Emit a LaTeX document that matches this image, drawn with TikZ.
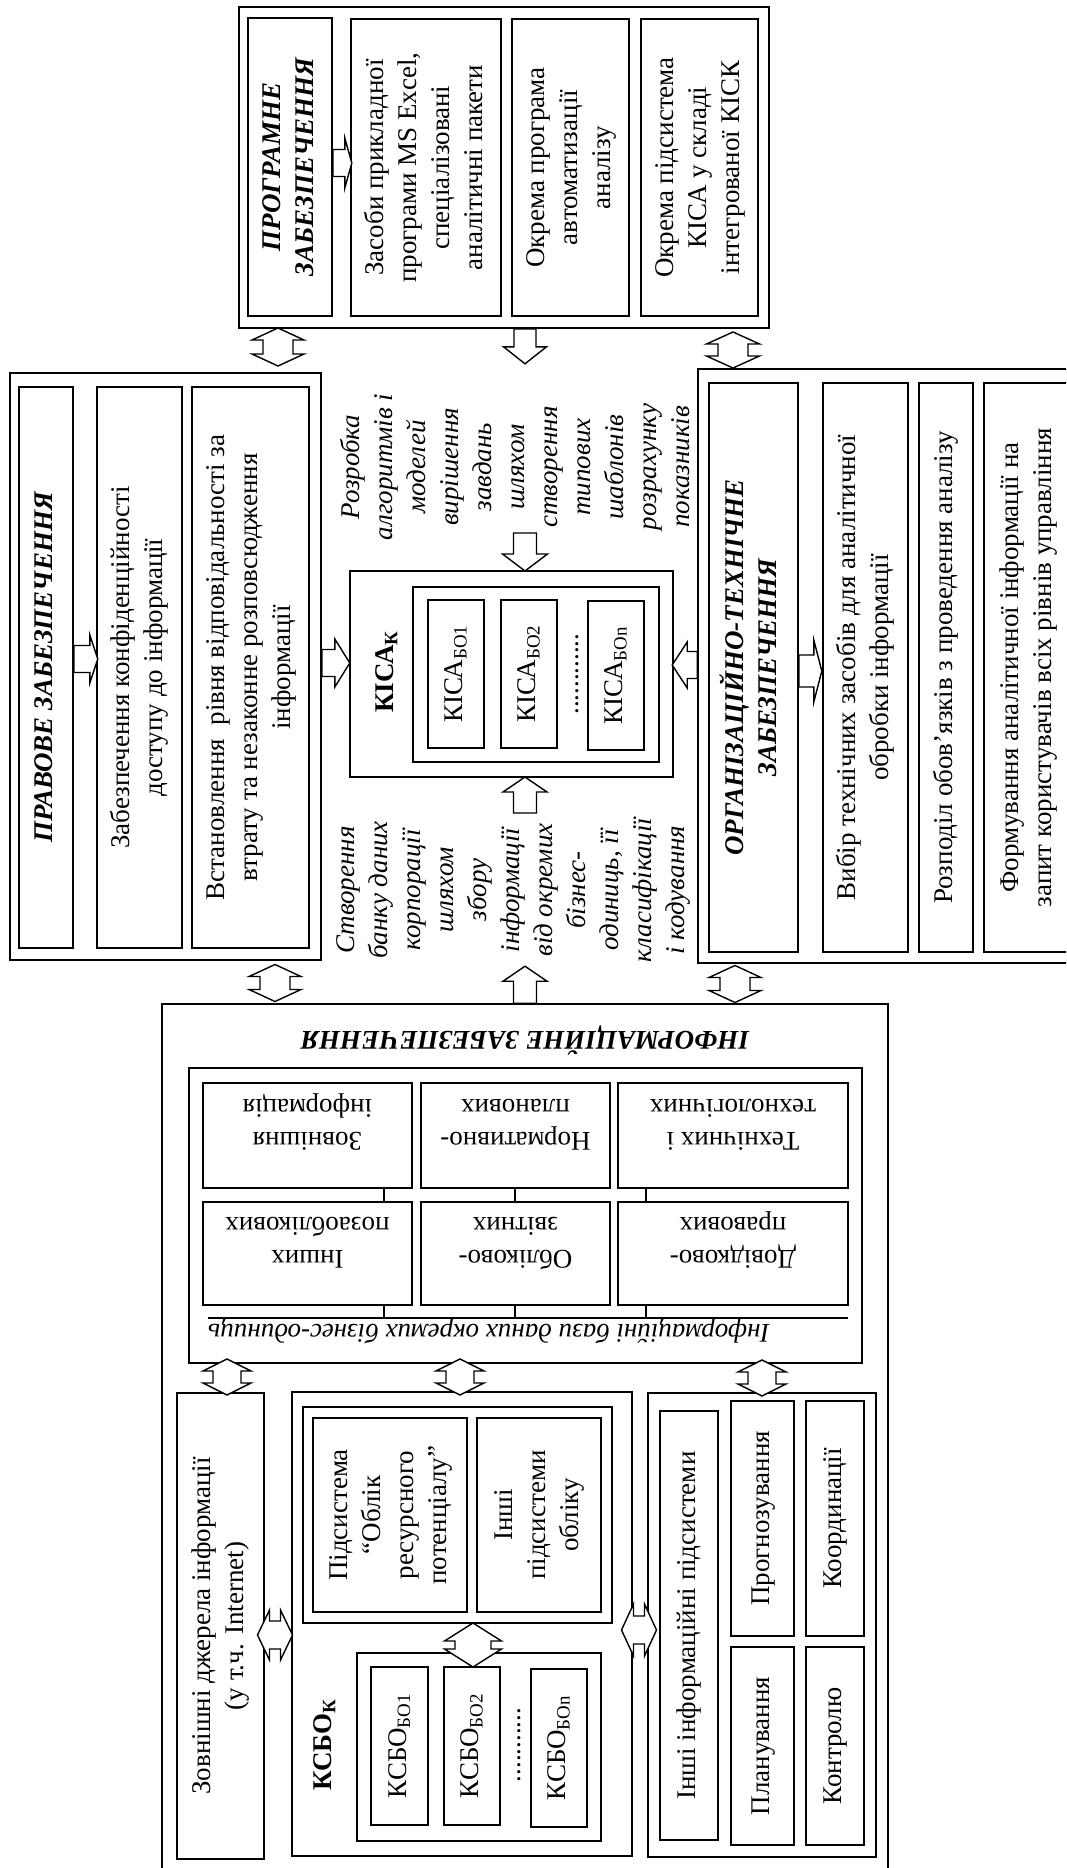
\documentclass[tikz,border=0pt]{standalone}
\usepackage{fontspec}
\setmainfont{Liberation Serif}
\usepackage{graphicx}
\usetikzlibrary{fit}

\newcommand\bodyfont{\fontsize{27}{33}\selectfont}
\newcommand\vtxt[1]{\rotatebox{90}{\makebox[0pt]{\begin{tabular}{@{}c@{}}#1\end{tabular}}}}
\newcommand\utxt[1]{\rotatebox{180}{\begin{tabular}{@{}c@{}}#1\end{tabular}}}

\begin{document}
\begin{tikzpicture}[x=1pt, y=1pt,
    box/.style={draw, line width=1.6pt, fill=white, inner sep=0pt, font=\bodyfont},
    hdr/.style={box, font=\bodyfont\bfseries\itshape},
    txt/.style={inner sep=0pt, font=\bodyfont},
    note/.style={inner sep=0pt, font=\bodyfont\itshape},
    lbl/.style={inner sep=0pt, font=\bodyfont\bfseries},
    link/.style={line width=1.4pt},
    arrline/.style={draw, line width=1.4pt, fill=white},
    pics/sarr/.style n args={4}{code={
        \path[arrline] (0,-#3/2) -- (#1-#4,-#3/2) -- (#1-#4,-#2/2) -- (#1,0)
            -- (#1-#4,#2/2) -- (#1-#4,#3/2) -- (0,#3/2) -- cycle;}},
    pics/darr/.style n args={4}{code={
        \path[arrline] (-#1/2,0) -- (-#1/2+#4,#2/2) -- (-#1/2+#4,#3/2) -- (#1/2-#4,#3/2)
            -- (#1/2-#4,#2/2) -- (#1/2,0) -- (#1/2-#4,-#2/2) -- (#1/2-#4,-#3/2)
            -- (-#1/2+#4,-#3/2) -- (-#1/2+#4,-#2/2) -- cycle;}}
]
    \useasboundingbox (0,0) rectangle (1066,-1868);
    \clip (0,0) rectangle (1066,-1868);

    % software
    \node[box, fit={(239,-7) (769,-328)}] (prog) {};
    \node[hdr, fit={(248,-18) (332,-316)}] (proghdr) {\vtxt{ПРОГРАМНЕ\\ ЗАБЕЗПЕЧЕННЯ}};
    \node[box, fit={(351,-19) (501,-316)}] (prog1) {\vtxt{Засоби прикладної\\ програми MS Excel,\\ спеціалізовані\\ аналітичні пакети}};
    \node[box, fit={(512,-19) (629,-316)}] (prog2) {\vtxt{Окрема програма\\ автоматизації\\ аналізу}};
    \node[box, fit={(641,-19) (758,-316)}] (prog3) {\vtxt{Окрема підсистема\\ КІСА у складі\\ інтегрованої КІСК}};

    % legal
    \node[box, fit={(10,-373) (321,-960)}] (law) {};
    \node[hdr, fit={(19,-387) (73,-948)}] (lawhdr) {\vtxt{ПРАВОВЕ ЗАБЕЗПЕЧЕННЯ}};
    \node[box, fit={(97,-387) (182,-948)}] (law1) {\vtxt{Забезпечення конфіденційності\\ доступу до інформації}};
    \node[box, fit={(192,-387) (309,-948)}] (law2) {\vtxt{Встановлення\ \ рівня відповідальності за\\ втрату та незаконне розповсюдження\\ інформації}};

    % analytical system
    \node[box, fit={(350,-571) (673,-777)}] (kica) {};
    \node[box, fit={(413,-587) (659,-762)}] (kicain) {};
    \node[box, fit={(428,-600) (484,-748)}] (kica1) {\vtxt{КІСА\textsubscript{БО1}}};
    \node[box, fit={(501,-600) (557,-748)}] (kica2) {\vtxt{КІСА\textsubscript{БО2}}};
    \node[box, fit={(588,-601) (644,-750)}] (kican) {\vtxt{КІСА\textsubscript{БОn}}};
    \node[txt] (kdots) at (572,-674) {\vtxt{............}};
    \node[lbl] (kicalbl) at (387,-672) {\vtxt{КІСА\textsubscript{К}}};

    \node[note] (ktext) at (518,-467) {\vtxt{Розробка\\ алгоритмів і\\ моделей\\ вирішення\\ завдань\\ шляхом\\ створення\\ типових\\ шаблонів\\ розрахунку\\ показників}};
    \node[note] (itext) at (513,-890) {\vtxt{Створення\\ банку даних\\ корпорації\\ шляхом\\ збору\\ інформації\\ від окремих\\ бізнес-\\ одиниць, її\\ класифікації\\ і кодування}};

    % organisational
    \node[box, fit={(698,-369) (1083,-963)}] (org) {};
    \node[hdr, fit={(709,-383) (798,-952)}] (orghdr) {\vtxt{ОРГАНІЗАЦІЙНО-ТЕХНІЧНЕ\\ ЗАБЕЗПЕЧЕННЯ}};
    \node[box, fit={(823,-383) (908,-952)}] (org1) {\vtxt{Вибір технічних засобів для аналітичної\\ обробки інформації}};
    \node[box, fit={(919,-383) (973,-952)}] (org2) {\vtxt{Розподіл обов’язків з проведення аналізу}};
    \node[box, fit={(984,-383) (1072,-952)}] (org3) {\vtxt{Формування аналітичної інформації на\\ запит користувачів всіх рівнів управління}};

    % information
    \node[box, fit={(162,-1004) (888,-1880)}] (info) {};
    \node[lbl, font=\bodyfont\bfseries\itshape] (infohdr) at (525,-1038) {\utxt{ІНФОРМАЦІЙНЕ ЗАБЕЗПЕЧЕННЯ}};
    \node[box, fit={(189,-1068) (862,-1363)}] (db) {};
    \node[box, fit={(203,-1083) (412,-1188)}] (db11) {\utxt{Зовнішня\\ інформація}};
    \node[box, fit={(421,-1083) (610,-1188)}] (db12) {\utxt{Нормативно-\\ планових}};
    \node[box, fit={(618,-1083) (848,-1188)}] (db13) {\utxt{Технічних і\\ технологічних}};
    \node[box, fit={(203,-1202) (412,-1305)}] (db21) {\utxt{Інших\\ позаоблікових}};
    \node[box, fit={(421,-1202) (610,-1305)}] (db22) {\utxt{Обліково-\\ звітних}};
    \node[box, fit={(618,-1202) (848,-1305)}] (db23) {\utxt{Довідково-\\ правових}};
    \coordinate (dbl) at (208,-1318);
    \coordinate (dbr) at (848,-1318);
    \draw[link] (dbl) -- (dbr);
    \foreach \bx/\cx in {1/384, 2/515, 3/646} {
        \draw[link] (db1\bx.south -| \cx,0) -- (db2\bx.north -| \cx,0);
        \draw[link] (db2\bx.south -| \cx,0) -- (dbl -| \cx,0);
    }
    \node[note, anchor=west] (dbcap) at (208,-1331) {\utxt{Інформаційні бази даних окремих бізнес-одиниць}};

    \node[box, fit={(177,-1393) (264,-1859)}] (ext) {\vtxt{Зовнішні джерела інформації\\ (у т.ч. Internet)}};
    \node[box, fit={(292,-1392) (632,-1856)}] (ksbo) {};
    \node[box, fit={(303,-1407) (612,-1623)}] (subs) {};
    \node[box, fit={(313,-1418) (467,-1612)}] (subs1) {\vtxt{Підсистема\\ “Облік\\ ресурсного\\ потенціалу”}};
    \node[box, fit={(477,-1418) (601,-1612)}] (subs2) {\vtxt{Інші\\ підсистеми\\ обліку}};
    \node[lbl] (ksbolbl) at (325,-1745) {\vtxt{КСБО\textsubscript{К}}};
    \node[box, fit={(357,-1653) (601,-1841)}] (ksboin) {};
    \node[box, fit={(371,-1667) (428,-1825)}] (ksbo1) {\vtxt{КСБО\textsubscript{БО1}}};
    \node[box, fit={(444,-1667) (500,-1825)}] (ksbo2) {\vtxt{КСБО\textsubscript{БО2}}};
    \node[box, fit={(531,-1669) (587,-1827)}] (ksbon) {\vtxt{КСБО\textsubscript{БОn}}};
    \node[txt] (sdots) at (514,-1745) {\vtxt{...........}};

    \node[box, fit={(648,-1393) (876,-1857)}] (oth) {};
    \node[box, fit={(660,-1411) (718,-1840)}] (oth1) {\vtxt{Інші інформаційні підсистеми}};
    \node[box, fit={(731,-1401) (794,-1636)}] (oth2) {\vtxt{Прогнозування}};
    \node[box, fit={(731,-1647) (794,-1845)}] (oth3) {\vtxt{Планування}};
    \node[box, fit={(806,-1401) (864,-1636)}] (oth4) {\vtxt{Координації}};
    \node[box, fit={(806,-1647) (864,-1845)}] (oth5) {\vtxt{Контролю}};

    % block arrows
    \pic[rotate=90] at (278,-347) {darr={38}{52}{30}{12}};
    \pic[rotate=90] at (733,-350) {darr={36}{53}{30}{12}};
    \pic[rotate=90] at (275,-983) {darr={37}{52}{30}{12}};
    \pic[rotate=90] at (735,-984) {darr={37}{52}{30}{12}};
    \pic[rotate=90] at (227,-1377) {darr={36}{48}{28}{12}};
    \pic[rotate=90] at (460,-1377) {darr={36}{48}{28}{12}};
    \pic[rotate=90] at (762,-1378) {darr={36}{48}{28}{12}};
    \pic at (275,-1635) {darr={35}{50}{28}{12}};
    \pic at (639,-1630) {darr={35}{52}{28}{12}};
    \pic[rotate=90] at (473,-1645) {darr={44}{57}{36}{18}};

    \pic at (proghdr.east |- 0,-163) {sarr={19}{50}{27}{7}};
    \pic at (lawhdr.east |- 0,-659) {sarr={24}{48}{27}{8}};
    \pic at (orghdr.east |- 0,-671) {sarr={23}{62}{32}{8}};
    \pic at (law.east |- 0,-663) {sarr={28}{48}{27}{15}};
    \pic[rotate=180] at (org.west |- 0,-665) {sarr={25}{46}{27}{15}};
    \pic[rotate=-90] at (prog.south -| 525,0) {sarr={35}{43}{22}{17}};
    \pic[rotate=-90] at (525,-533) {sarr={38}{45}{23}{17}};
    \pic[rotate=90] at (info.north -| 525,0) {sarr={37}{44}{23}{15}};
    \pic[rotate=90] at (525,-813) {sarr={36}{44}{23}{15}};
\end{tikzpicture}
\end{document}
